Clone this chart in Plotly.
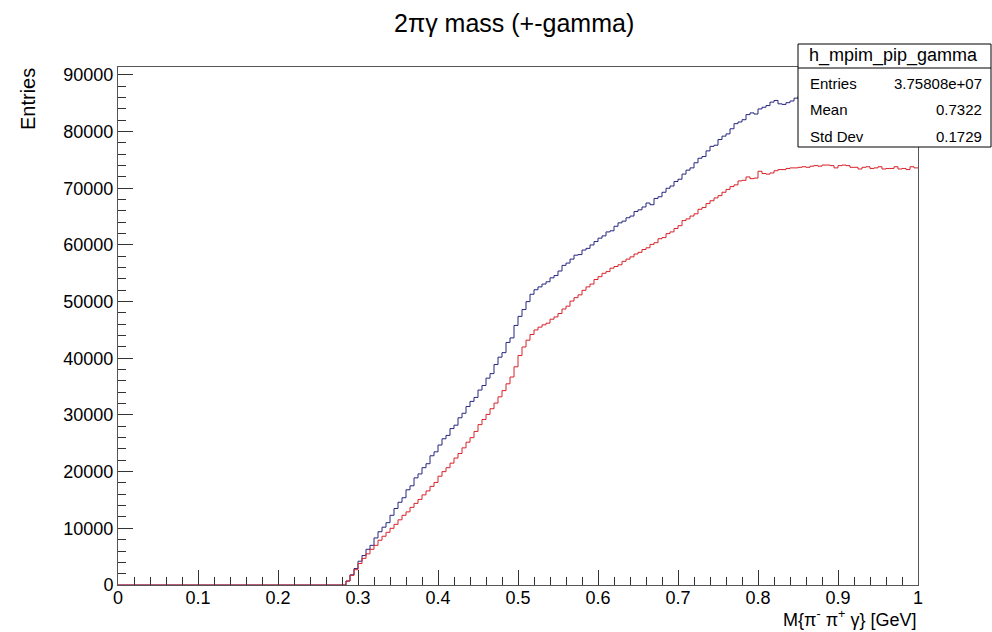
import numpy as np
import plotly.graph_objects as go

# ---------------- data ----------------
n_bins = 200
x_min, x_max = 0.0, 1.0
n_empty = 57  # bins from 0 to 0.285 are empty

blue_counts = [0] * n_empty + [
    700, 1800, 2900, 4200, 5200, 6300, 7000, 8300, 9400, 10200,
    11000, 12300, 13500, 14600, 15400, 16800, 17500, 18900, 19600, 20700,
    21400, 22800, 23500, 24700, 25800, 26400, 27600, 28200, 29500, 30300,
    31500, 32400, 33100, 34400, 35200, 36500, 37300, 38900, 40200, 41000,
    42800, 43600, 45800, 47400, 48600, 50000, 51300, 52100, 52600, 53100,
    53500, 54200, 54600, 55400, 56400, 56800, 57500, 58200, 58300, 59100,
    59400, 60000, 60600, 61200, 61600, 62300, 62500, 63300, 63900, 64200,
    64800, 65100, 65900, 66200, 66700, 67400, 67100, 68200, 68500, 69300,
    70000, 70400, 71200, 71600, 72500, 73200, 73600, 74500, 75300, 75600,
    76600, 77400, 77600, 78600, 79200, 79600, 80500, 81400, 81700, 82100,
    83000, 83300, 83100, 84000, 84300, 84600, 85200, 85500, 84900, 84800,
    85100, 85400, 85900, 86200, 86500, 86900, 87100, 87400, 87600, 87900,
    88100, 88300, 88200, 88600, 88800, 88700, 89000, 89200, 89100, 89300,
    89500, 89400, 89600, 89700, 89500, 89800, 89900, 89700, 89900, 90000,
    89800, 90000, 90100,
]

red_counts = [0] * n_empty + [
    700, 1700, 2700, 3800, 4700, 5500, 6300, 7000, 7900, 8600,
    9300, 10000, 10700, 11500, 12300, 12900, 13700, 14400, 15100, 15900,
    16600, 17400, 18100, 19200, 20000, 20700, 21500, 22400, 23200, 24200,
    25200, 26000, 27100, 28300, 29200, 30100, 31100, 32100, 33200, 34300,
    35500, 36700, 38500, 40500, 42000, 43200, 44200, 45000, 45500, 45900,
    46200, 46900, 47300, 47900, 48700, 49200, 50100, 50700, 51200, 52000,
    52600, 53100, 53900, 54400, 55000, 55300, 55900, 56200, 56500, 57100,
    57500, 57900, 58400, 58700, 59200, 59500, 60100, 60400, 61100, 61300,
    62000, 62300, 62900, 63400, 64300, 64600, 65100, 65500, 66300, 66600,
    67300, 67800, 68300, 68700, 69300, 69800, 70300, 70600, 71300, 71400,
    72000, 71700, 71800, 73000, 72600, 72500, 72700, 73100, 73300, 73300,
    73500, 73600, 73600, 73700, 73800, 73700, 73900, 74000, 73900, 74100,
    74100, 74000, 73600, 74000, 74100, 74000, 73700, 73700, 73400, 73700,
    73800, 73500, 73600, 73800, 73400, 73500, 73500, 73800, 73400, 73500,
    73300, 73800, 73600,
]

hist_name = "h_mpim_pip_gamma"
stats_labels = ["Entries", "Mean", "Std Dev"]
stats_values = ["3.75808e+07", "0.7322", "0.1729"]

title_text = "2πγ mass (+-gamma)"
x_title = "M{π<sup>-</sup> π<sup>+</sup> γ} [GeV]"
y_title = "Entries"

assert len(blue_counts) == n_bins and len(red_counts) == n_bins

# ---------------- layout geometry ----------------
W, H = 992, 632
L, R, T, B = 118, 918, 67, 585  # plot area in pixels
y_top = 91400


def px(xp):
    return (xp - L) / (R - L)


def py(yp):
    return (B - yp) / (B - T)


edges = np.linspace(x_min, x_max, n_bins + 1)


def step_xy(counts):
    xs = list(edges[:-1]) + [edges[-1]]
    ys = list(counts) + [counts[-1]]
    return xs, ys


fig = go.Figure()
bx, by = step_xy(blue_counts)
rx, ry = step_xy(red_counts)
fig.add_trace(go.Scatter(x=bx, y=by, mode="lines", line=dict(color="#26267f", width=1, shape="hv"),
                         hoverinfo="skip", showlegend=False))
fig.add_trace(go.Scatter(x=rx, y=ry, mode="lines", line=dict(color="#d8222a", width=1, shape="hv"),
                         hoverinfo="skip", showlegend=False))

font = "Liberation Sans, Arial, Helvetica, sans-serif"
axis_common = dict(
    showgrid=False, zeroline=False, showline=True, linecolor="#555", linewidth=1,
    mirror=True, ticks="inside", tickcolor="#333", tickwidth=1,
    tickfont=dict(family=font, size=18, color="black"),
)

fig.update_xaxes(range=[x_min, x_max], dtick=0.1, tick0=0, ticklen=15, ticklabelstandoff=-4,
                 minor=dict(ticks="inside", ticklen=8, dtick=0.02, tickcolor="#333"),
                 **axis_common)
fig.update_yaxes(range=[0, y_top], dtick=10000, tick0=0, ticklen=15, tickformat="d",
                 minor=dict(ticks="inside", ticklen=8, dtick=2000, tickcolor="#333"),
                 **axis_common)

annotations = [
    dict(text=title_text, x=px(514), y=py(23), xref="paper", yref="paper",
         showarrow=False, font=dict(family=font, size=25, color="black"),
         xanchor="center", yanchor="middle"),
    dict(text=x_title, x=px(918), y=py(632), xref="paper", yref="paper",
         showarrow=False, font=dict(family=font, size=18, color="black"),
         xanchor="right", yanchor="bottom"),
    dict(text=y_title, x=px(28), y=py(66), xref="paper", yref="paper", textangle=-90,
         showarrow=False, font=dict(family=font, size=20, color="black"),
         xanchor="center", yanchor="top"),
    dict(text=hist_name, x=px(893), y=py(56), xref="paper", yref="paper",
         showarrow=False, font=dict(family=font, size=18, color="black"),
         xanchor="center", yanchor="middle"),
]
row_y = [83, 110, 137]
for lab, val, yy in zip(stats_labels, stats_values, row_y):
    annotations.append(dict(text=lab, x=px(808), y=py(yy), xref="paper", yref="paper",
                            showarrow=False, font=dict(family=font, size=15, color="black"),
                            xanchor="left", yanchor="middle"))
    annotations.append(dict(text=val, x=px(984), y=py(yy), xref="paper", yref="paper",
                            showarrow=False, font=dict(family=font, size=15, color="black"),
                            xanchor="right", yanchor="middle"))

shapes = [
    dict(type="rect", xref="paper", yref="paper", x0=px(798), x1=px(991), y0=py(147), y1=py(44),
         fillcolor="white", line=dict(color="black", width=1), layer="above"),
    dict(type="line", xref="paper", yref="paper", x0=px(798), x1=px(991), y0=py(68), y1=py(68),
         line=dict(color="black", width=1), layer="above"),
]

fig.update_layout(
    width=W, height=H,
    margin=dict(l=L, r=W - R, t=T, b=H - B, pad=0),
    paper_bgcolor="white", plot_bgcolor="white",
    annotations=annotations, shapes=shapes,
    showlegend=False,
)

fig.write_html(
    "out.html",
    config={"displayModeBar": False},
    post_script="document.body.style.margin='0';document.body.style.overflow='hidden';",
)
